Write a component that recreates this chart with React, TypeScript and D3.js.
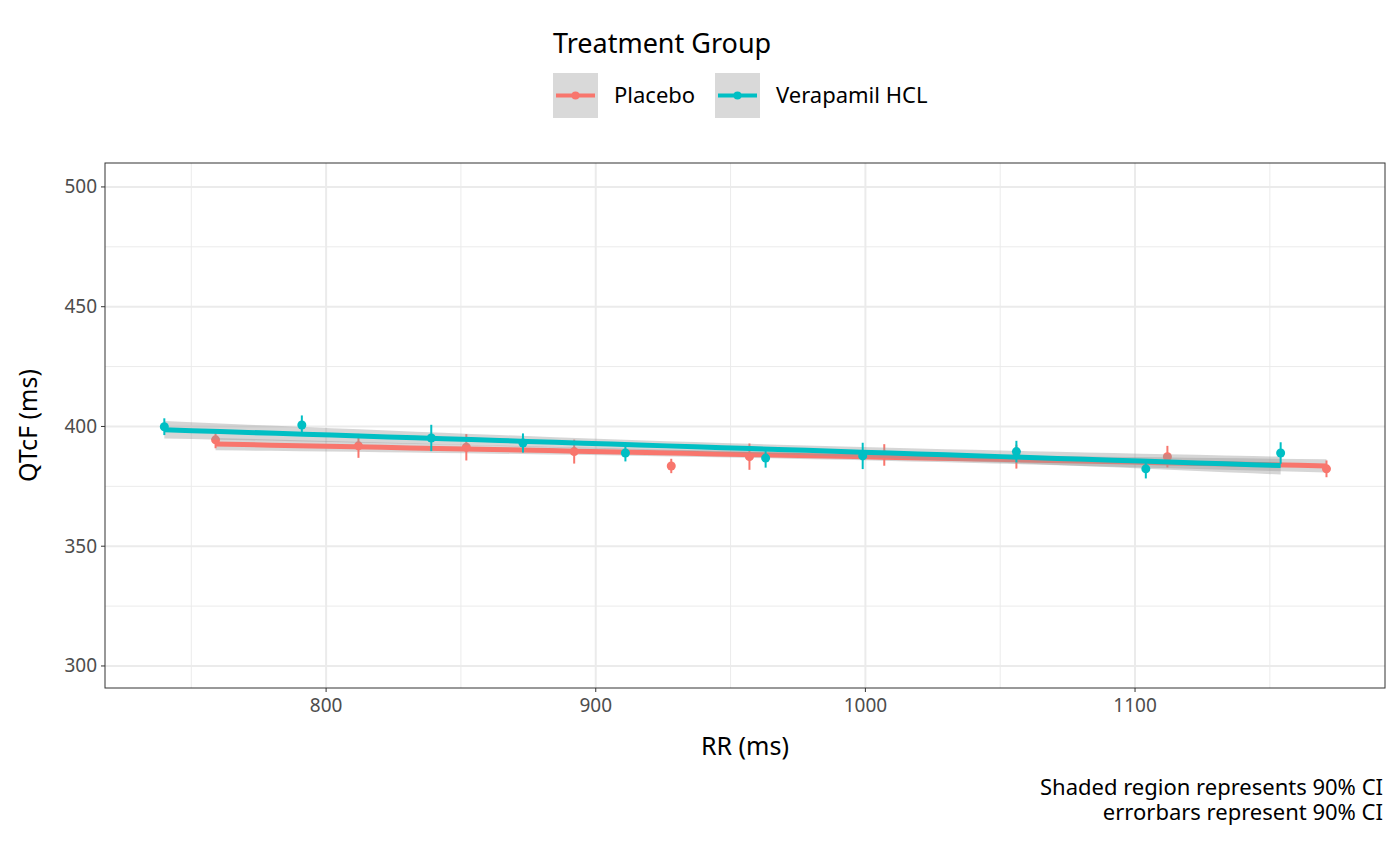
import React from "react";
import * as d3 from "d3";

const placeboRR = [759, 812, 852, 892, 928, 957, 1007, 1056, 1112, 1171];
const placeboQT = [394.4, 391.9, 391.3, 389.5, 383.5, 387.4, 388.1, 387.4, 387.4, 382.3];
const placeboErr = [3.5, 5, 5.5, 5, 3, 5.5, 4.5, 5, 4.5, 3.5];
const veraRR = [740, 791, 839, 873, 911, 963, 999, 1056, 1104, 1154];
const veraQT = [399.9, 400.6, 395.2, 393.1, 388.9, 386.8, 387.7, 389.5, 382.3, 388.9];
const veraErr = [3.5, 4, 5.5, 4, 3.5, 4, 5.5, 4.5, 4, 4.5];
const xTicks = [800, 900, 1000, 1100];
const yTicks = [300, 350, 400, 450, 500];

const W = 1400, H = 866;
const m = { left: 105, right: 1385, top: 163, bottom: 688 };
const font = "'Noto Sans', sans-serif";

// linear fit with 90% confidence band
function fit(xs: number[], ys: number[]) {
  const n = xs.length;
  const mx = d3.mean(xs)!, my = d3.mean(ys)!;
  const sxx = d3.sum(xs, (x) => (x - mx) ** 2);
  const b = d3.sum(xs, (x, i) => (x - mx) * (ys[i] - my)) / sxx;
  const a = my - b * mx;
  const s = Math.sqrt(d3.sum(xs, (x, i) => (ys[i] - a - b * x) ** 2) / (n - 2));
  const t = 1.86;
  const grid = d3.range(0, 41).map((k) => d3.min(xs)! + (k / 40) * (d3.max(xs)! - d3.min(xs)!));
  return grid.map((x) => {
    const yh = a + b * x;
    const se = s * Math.sqrt(1 / n + (x - mx) ** 2 / sxx);
    return { x, y: yh, lo: yh - t * se, hi: yh + t * se };
  });
}

export default function App() {
  const x = d3.scaleLinear().domain([718, 1192.7]).range([m.left, m.right]);
  const y = d3.scaleLinear().domain([290.8, 510]).range([m.bottom, m.top]);
  const series = [
    { name: "Placebo", color: "#F8766D", rr: placeboRR, qt: placeboQT, err: placeboErr },
    { name: "Verapamil HCL", color: "#00BFC4", rr: veraRR, qt: veraQT, err: veraErr },
  ];
  const line = d3.line<any>().x((d) => x(d.x)).y((d) => y(d.y));
  const area = d3.area<any>().x((d) => x(d.x)).y0((d) => y(d.lo)).y1((d) => y(d.hi));
  const minorX = [750, 850, 950, 1050, 1150];
  const minorY = [325, 375, 425, 475];
  return (
    <svg width={W} height={H} style={{ position: "absolute", left: 0, top: 0 }} fontFamily={font}>
      <rect width={W} height={H} fill="white" />
      {minorX.map((v) => <line key={"mx" + v} x1={x(v)} x2={x(v)} y1={m.top} y2={m.bottom} stroke="#ebebeb" strokeWidth={1} />)}
      {minorY.map((v) => <line key={"my" + v} y1={y(v)} y2={y(v)} x1={m.left} x2={m.right} stroke="#ebebeb" strokeWidth={1} />)}
      {xTicks.map((v) => <line key={"gx" + v} x1={x(v)} x2={x(v)} y1={m.top} y2={m.bottom} stroke="#ebebeb" strokeWidth={2} />)}
      {yTicks.map((v) => <line key={"gy" + v} y1={y(v)} y2={y(v)} x1={m.left} x2={m.right} stroke="#ebebeb" strokeWidth={2} />)}
      {series.map((s) => {
        const f = fit(s.rr, s.qt);
        return (
          <g key={s.name}>
            <path d={area(f)!} fill="#999" opacity={0.4} />
            {s.rr.map((r, i) => (
              <g key={i}>
                <line x1={x(r)} x2={x(r)} y1={y(s.qt[i] - s.err[i])} y2={y(s.qt[i] + s.err[i])} stroke={s.color} strokeWidth={2} />
                <circle cx={x(r)} cy={y(s.qt[i])} r={4.5} fill={s.color} />
              </g>
            ))}
            <path d={line(f)!} fill="none" stroke={s.color} strokeWidth={5} />
          </g>
        );
      })}
      <rect x={m.left} y={m.top} width={m.right - m.left} height={m.bottom - m.top} fill="none" stroke="#333" strokeWidth={1} />
      {xTicks.map((v) => (
        <g key={"tx" + v}>
          <line x1={x(v)} x2={x(v)} y1={m.bottom} y2={m.bottom + 4} stroke="#333" />
          <text x={x(v)} y={m.bottom + 24} textAnchor="middle" fontSize={19} fill="#4d4d4d">{v}</text>
        </g>
      ))}
      {yTicks.map((v) => (
        <g key={"ty" + v}>
          <line x1={m.left - 4} x2={m.left} y1={y(v)} y2={y(v)} stroke="#333" />
          <text x={m.left - 8} y={y(v) + 6.5} textAnchor="end" fontSize={19} fill="#4d4d4d">{v}</text>
        </g>
      ))}
      <text x={(m.left + m.right) / 2} y={755} textAnchor="middle" fontSize={25}>RR (ms)</text>
      <text transform={`translate(37,${(m.top + m.bottom) / 2}) rotate(-90)`} textAnchor="middle" fontSize={25}>QTcF (ms)</text>
      <text x={553} y={53} fontSize={27}>Treatment Group</text>
      {series.map((s, i) => {
        const kx = i === 0 ? 553 : 715;
        return (
          <g key={"lg" + s.name}>
            <rect x={kx} y={73} width={45} height={45} fill="#d9d9d9" />
            <line x1={kx + 3} x2={kx + 42} y1={95.5} y2={95.5} stroke={s.color} strokeWidth={4} />
            <circle cx={kx + 22.5} cy={95.5} r={4} fill={s.color} />
            <text x={kx + 61} y={103} fontSize={22}>{s.name}</text>
          </g>
        );
      })}
      <text x={1383} y={795} textAnchor="end" fontSize={22}>Shaded region represents 90% CI</text>
      <text x={1383} y={820} textAnchor="end" fontSize={22}>errorbars represent 90% CI </text>
    </svg>
  );
}
